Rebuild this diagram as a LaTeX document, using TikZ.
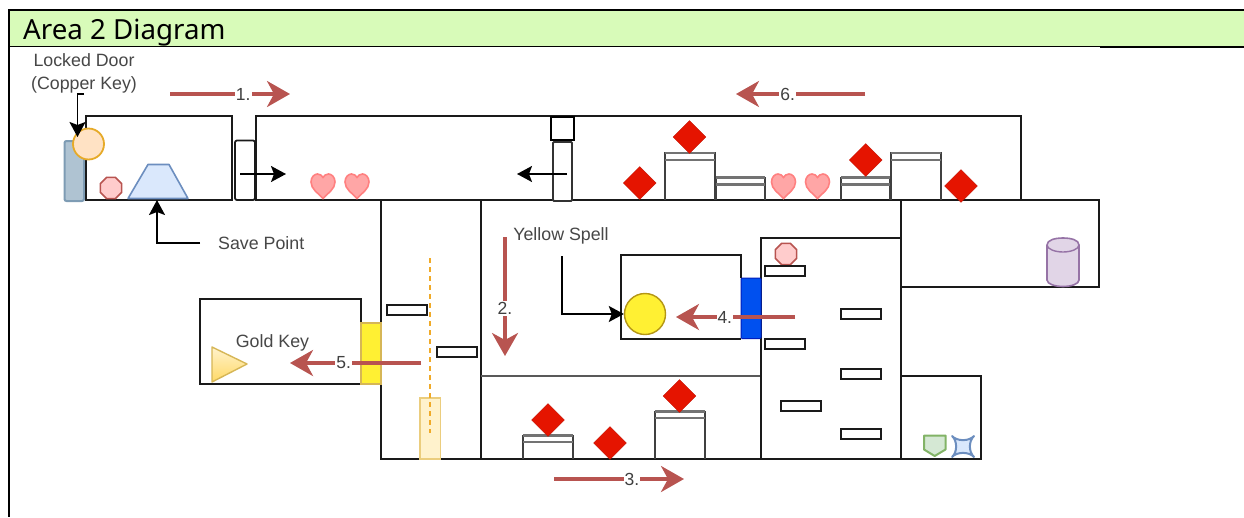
\documentclass[tikz,border=0pt]{standalone}
\usepackage{fontspec}
\setmainfont{Liberation Sans}
\newfontfamily\titlefont{Noto Sans}
\usetikzlibrary{arrows.meta,shapes.geometric}
\definecolor{wallc}{HTML}{1A1A1A}
\definecolor{redarrow}{HTML}{B85450}
\definecolor{headgreen}{HTML}{D8FBB9}
\definecolor{doorblue}{HTML}{AFC3D2}
\definecolor{doorblueline}{HTML}{7E9CB4}
\definecolor{gemred}{HTML}{E51400}
\tikzset{
  x=1pt,y=-1pt,
  wall/.style={draw=wallc,line width=2pt,line join=miter},
  plat/.style={draw=wallc,line width=2pt,fill=white},
  ledge/.style={draw=black!55,line width=2.4pt},
  flow/.style={draw=redarrow,line width=3.4pt,-{Stealth[length=23pt,width=26pt,inset=7pt]}},
  flowlabel/.style={fill=white,inner sep=1pt,font=\fontsize{17.5}{17.5}\selectfont,text=black!75},
  note/.style={font=\fontsize{17.8}{23}\selectfont,text=black!72,align=center,inner sep=0pt},
  pointer/.style={draw=black,line width=1.8pt,-{Stealth[length=15pt,width=16pt,inset=3pt]}},
  gem/.style={diamond,fill=gemred,draw=gemred!85!black,line width=.4pt,minimum size=33pt,inner sep=0pt},
  octa/.style={regular polygon,regular polygon sides=8,fill=red!20!white,draw=redarrow,line width=1.6pt,minimum size=23pt,inner sep=0pt},
  heart/.style={fill=red!35!white,draw=red!50!white,line width=1.6pt},
}
\newcommand{\hrt}[2]{\draw[heart,shift={(#1,#2)}] (0,12.5) .. controls (-5,7) and (-12,3) .. (-12,-4) .. controls (-12,-9) and (-8.5,-12) .. (-5.5,-12) .. controls (-3,-12) and (-1,-10.5) .. (0,-8.5) .. controls (1,-10.5) and (3,-12) .. (5.5,-12) .. controls (8.5,-12) and (12,-9) .. (12,-4) .. controls (12,3) and (5,7) .. (0,12.5) -- cycle;}
% x1, x2, floor y, top y, second y
\newcommand{\stepbox}[5]{\draw[wall,draw=black!75,line width=2pt] (#1,#3) -- (#1,#4) -- (#2,#4) -- (#2,#3);\draw[ledge] (#1,#4) -- (#2,#4) (#1,#5) -- (#2,#5);}
\newcommand{\ledgeplat}[3]{\draw[plat] (#1,#2) rectangle ++(40,#3);}
\begin{document}
\begin{tikzpicture}
\useasboundingbox (0,0) rectangle (1244,517);
\fill[white] (0,0) rectangle (1244,517);
% header band
\fill[headgreen] (9,10) rectangle (1244,46);
\draw[black,line width=2pt] (9,10) -- (1244,10);
\draw[black,line width=2pt] (9,9) -- (9,517);
\draw[black,line width=1pt] (9,46.5) -- (1100,46.5);
\draw[black,line width=2pt] (1100,47) -- (1244,47);
\node[anchor=base west,inner sep=0pt,font=\titlefont\fontsize{27.7}{27.7}\selectfont] (title) at (23,39) {Area 2 Diagram};
% walls
\draw[wall] (86,116) rectangle (232,200);
\draw[wall] (255.5,200) -- (255.5,116) -- (1021,116) -- (1021,200);
\draw[wall] (255,200) -- (1099,200) -- (1099,286.5) -- (901,286.5);
\draw[wall] (381,200) -- (381,459) -- (981,459) -- (981,376) -- (901,376);
\draw[wall] (481,200) -- (481,459);
\draw[wall,draw=black!65,line width=2.2pt] (481,376) -- (761,376);
\draw[wall] (761,459) -- (761,238) -- (901,238);
\draw[wall] (901,200) -- (901,459);
\draw[wall] (361,323) -- (361,299) -- (200,299) -- (200,384) -- (361,384);
\draw[wall] (741,278) -- (741,255) -- (621,255) -- (621,338.5) -- (741,338.5);
% doors
\draw[wall,fill=white,rounded corners=2pt,line width=1.8pt] (235,140.5) rectangle (255,200);
\draw[draw=black!80,line width=1.8pt,fill=white,rounded corners=1pt] (553,142) rectangle (572,201);
\node[draw=black,line width=2pt,fill=white,minimum size=23pt,inner sep=0pt] (upperblock) at (562.5,128.5) {};
\draw[draw=doorblueline,line width=2pt,fill=doorblue,rounded corners=2pt] (64.5,141) rectangle (84,201);
\draw[wall] (85.5,140) -- (85.5,200);
\node[circle,draw={rgb,255:red,230;green,170;blue,40},line width=1.8pt,fill={rgb,255:red,255;green,226;blue,196},minimum size=31pt,inner sep=0pt] (copperdoor) at (88.5,144) {};
\draw[draw={rgb,255:red,214;green,182;blue,86},line width=1.4pt,fill={rgb,255:red,255;green,240;blue,51}] (361,323) rectangle (381,384);
\draw[draw={rgb,255:red,0;green,29;blue,188},line width=1pt,fill={rgb,255:red,0;green,80;blue,239},rounded corners=1pt] (741,278) rectangle (761,338.5);
% items, lower room 1
\node[octa] (oct1) at (111,188) {};
\draw[draw={rgb,255:red,108;green,142;blue,191},line width=1.6pt,fill={rgb,255:red,218;green,232;blue,252},line join=round] (128,198.5) -- (148,164.5) -- (169,164.5) -- (188,198.5) -- cycle;
\coordinate (savetop) at (157,200);
\node[octa] (oct2) at (786,254) {};
% hearts
\hrt{323}{186}\hrt{357}{186}\hrt{783.5}{186}\hrt{817.5}{186}
% stepped boxes
\stepbox{665}{714.5}{200}{153}{160}
\stepbox{715.5}{765}{200}{177.5}{184.5}
\stepbox{841}{890}{200}{177.5}{184.5}
\stepbox{891}{941}{200}{153}{160}
\stepbox{523}{573}{459}{435.5}{442}
\stepbox{655}{705}{459}{411.5}{418}
% gems
\node[gem] (g1) at (639.7,183) {};
\node[gem] (g2) at (689.5,137) {};
\node[gem] (g3) at (865.7,160) {};
\node[gem] (g4) at (961,186) {};
\node[gem] (g5) at (548,420) {};
\node[gem] (g6) at (610,443) {};
\node[gem] (g7) at (679.5,396) {};
% platforms
\ledgeplat{386.5}{304.5}{10}
\ledgeplat{436.5}{346.5}{10}
\ledgeplat{765}{266}{10}
\ledgeplat{841}{308.5}{10}
\ledgeplat{765}{338.5}{10}
\ledgeplat{841}{368.5}{10}
\ledgeplat{781}{400.5}{10}
\ledgeplat{841}{428.5}{10}
% gold column
\draw[draw={rgb,255:red,235;green,205;blue,125},line width=1.6pt,fill={rgb,255:red,255;green,242;blue,204}] (420,398) rectangle (440.5,459);
\draw[draw={rgb,255:red,240;green,170;blue,40},line width=1.6pt,dash pattern=on 5pt off 4pt] (430,258) -- (430,433);
% gold key triangle
\draw[draw={rgb,255:red,214;green,182;blue,86},line width=1.4pt,top color={rgb,255:red,255;green,242;blue,204},bottom color={rgb,255:red,255;green,217;blue,102},line join=round] (212,347) -- (247,364) -- (212,382) -- cycle;
% yellow spell
\node[circle,draw={rgb,255:red,180;green,150;blue,20},line width=1.4pt,fill={rgb,255:red,255;green,240;blue,51},minimum size=41pt,inner sep=0pt] (spell) at (645,314) {};
% cylinder
\draw[draw={rgb,255:red,150;green,115;blue,166},line width=1.6pt,fill={rgb,255:red,225;green,213;blue,231}] (1047,245) -- (1047,280) .. controls (1047,284) and (1055,286.5) .. (1063,286.5) .. controls (1071,286.5) and (1079,284) .. (1079,280) -- (1079,245) .. controls (1079,240) and (1071,238) .. (1063,238) .. controls (1055,238) and (1047,240) .. (1047,245) -- cycle;
\draw[draw={rgb,255:red,150;green,115;blue,166},line width=1.4pt] (1047,245) .. controls (1047,249) and (1055,252) .. (1063,252) .. controls (1071,252) and (1079,249) .. (1079,245);
% shield and star
\draw[draw={rgb,255:red,130;green,179;blue,102},line width=2pt,fill={rgb,255:red,213;green,232;blue,212},line join=round] (924,435.5) -- (945.5,435.5) -- (945.5,449.5) -- (934.7,456) -- (924,449.5) -- cycle;
\draw[draw={rgb,255:red,108;green,142;blue,191},line width=2pt,fill={rgb,255:red,218;green,232;blue,252},line join=round] (952,436) .. controls (957,441.5) and (969,441.5) .. (974,436) .. controls (968.5,441) and (968.5,452) .. (974,457) .. controls (969,451.5) and (957,451.5) .. (952,457) .. controls (957.5,452) and (957.5,441) .. (952,436) -- cycle;
% labels and pointers
\node[note] (locked) at (84,73) {Locked Door\\(Copper Key)};
\coordinate (lockedelbow) at (77.5,94);
\coordinate (lockedtip) at (77.5,137);
\draw[pointer] (84,94) -- (lockedelbow) -- (lockedtip);
\node[note,anchor=west,inner xsep=18pt] (savelabel) at (200,243) {Save Point};
\draw[pointer] (savelabel.west) -| (savetop);
\node[note] (yellowlabel) at (561,235.5) {Yellow Spell};
\coordinate (yellowstart) at (562,256);
\draw[pointer] (yellowstart) |- (spell.west);
\node[note] (goldlabel) at (272.5,342.5) {Gold Key};
\coordinate (d1a) at (240,174); \coordinate (d1b) at (286,174);
\draw[pointer] (d1a) -- (d1b);
\coordinate (d2a) at (567,174); \coordinate (d2b) at (517,174);
\draw[pointer] (d2a) -- (d2b);
% numbered flow arrows
\coordinate (f1a) at (170,94); \coordinate (f1b) at (290,94);
\draw[flow] (f1a) -- (f1b) node[flowlabel,pos=.61] (n1) {1.};
\coordinate (f6a) at (865,94); \coordinate (f6b) at (736,94);
\draw[flow] (f6a) -- (f6b) node[flowlabel,pos=.6] (n6) {6.};
\coordinate (f2a) at (505,237); \coordinate (f2b) at (505,356);
\draw[flow] (f2a) -- (f2b) node[flowlabel,pos=.6] (n2) {2.};
\coordinate (f3a) at (554,479); \coordinate (f3b) at (684,479);
\draw[flow] (f3a) -- (f3b) node[flowlabel,pos=.6] (n3) {3.};
\coordinate (f4a) at (795,317); \coordinate (f4b) at (676,317);
\draw[flow] (f4a) -- (f4b) node[flowlabel,pos=.59] (n4) {4.};
\coordinate (f5a) at (421,363); \coordinate (f5b) at (290,363);
\draw[flow] (f5a) -- (f5b) node[flowlabel,pos=.59] (n5) {5.};
\end{tikzpicture}
\end{document}
